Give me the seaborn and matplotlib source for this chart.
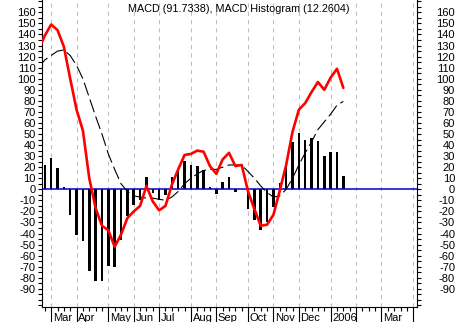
import matplotlib
matplotlib.use("Agg")
import matplotlib.pyplot as plt
import matplotlib.transforms as mtransforms
import numpy as np
import pandas as pd
import seaborn as sns

# Weekly MACD study; week 0 is the last trading week of February 2005
weeks = list(range(-1, 48))
macd = [126, 139, 149, 144, 129, 100, 72, 53, 10, -17,
        -33, -37, -52, -41, -26, -20, -15, 3, -11, -19,
        -15, 4, 18, 31, 32, 35, 34, 21, 14, 27,
        33, 21, 22, -2, -18, -33, -32, -23, -1, 22,
        52, 72, 78, 88, 97, 90, 101, 109, 91.7338]
signal = [110, 117, 121, 125, 126, 121, 112, 100, 83, 66,
          50, 32, 18, 5, -2, -6, -7, -8, -8, -9,
          -10, -7, -2, 5, 10, 14, 17, 18, 18, 20,
          22, 22, 22, 16, 10, 3, -3, -7, -6, 0,
          10, 22, 33, 43, 54, 61, 68, 76, 79.4734]
histogram = [16, 22, 28, 19, 2, -23, -41, -47, -74, -83,
             -83, -69, -70, -46, -24, -14, -10, 11, -3, -10,
             -5, 11, 18, 26, 22, 21, 17, 2, -4, 7,
             11, -2, 0.5, -18, -28, -37, -30, -16, 6, 23,
             43, 51, 45, 46, 44, 30, 34, 34, 12.2604]

# First trading week of each month on the week axis
month_weeks = [1, 5, 10, 14, 18, 23, 27, 32, 36, 40, 45, 49, 53, 58]
month_labels = ["Mar", "Apr", "May", "Jun", "Jul", "Aug", "Sep", "Oct",
                "Nov", "Dec", "2006", "", "Mar", ""]

title = "MACD (91.7338), MACD Histogram (12.2604)"

sns.set_theme(style="white")
plt.rcParams["font.family"] = ["Liberation Sans", "DejaVu Sans"]
plt.rcParams["text.color"] = "black"
plt.rcParams["axes.edgecolor"] = "black"

W, H = 458, 322
fig = plt.figure(figsize=(W / 100, H / 100), dpi=100)
fig.patch.set_facecolor("white")
ax = fig.add_axes([41.5 / W, (H - 306.5) / H, (416.7 - 41.5) / W, 306.5 / H])

df = pd.DataFrame({"week": weeks, "macd": macd, "signal": signal, "hist": histogram})

# month separators
for w in month_weeks:
    ax.axvline(w, color="#BDBDBD", lw=0.75, linestyle=(0, (4, 4)), zorder=0)

sns.barplot(data=df, x="week", y="hist", native_scale=True, color="black",
            saturation=1, width=0.4, errorbar=None, linewidth=0, ax=ax, zorder=2)
ax.axhline(0, color="#0000CC", lw=1.1, zorder=3)
sns.lineplot(data=df, x="week", y="signal", color="black", lw=0.8,
             linestyle=(0, (12, 4)), ax=ax, zorder=4)
sns.lineplot(data=df, x="week", y="macd", color="#FF0000", lw=1.9, ax=ax, zorder=5)

ax.set_xlim(-0.52, 58.55)
ax.set_ylim(-106, 171.2)
ax.set_xlabel("")
ax.set_ylabel("")

for side in ["left", "right", "bottom"]:
    ax.spines[side].set_visible(True)
    ax.spines[side].set_color("black")
    ax.spines[side].set_linewidth(0.8)
ax.spines["top"].set_visible(False)

# x ticks: long marks at month starts, short marks every week
ax.set_xticks(month_weeks)
ax.set_xticks(range(0, 59), minor=True)
ax.tick_params(axis="x", which="major", bottom=True, length=10.8, width=0.8,
               color="black", direction="out", labelbottom=False)
ax.tick_params(axis="x", which="minor", bottom=True, length=2.6, width=0.8,
               color="black", direction="out")

yt = list(range(-100, 171, 10))
ax.set_yticks(yt, [str(v) if -90 <= v <= 160 else "" for v in yt])
ax.set_yticks(list(range(-105, 171, 10)), minor=True)
ax.tick_params(axis="y", which="both", left=True, right=True, length=3,
               width=0.8, color="black", direction="out")
ax.tick_params(axis="y", which="major", labelleft=True, labelright=True,
               labelsize=8, labelcolor="black", pad=1.2)

shift = mtransforms.ScaledTranslation(32.5 / 100, 0, fig.dpi_scale_trans)
for t in ax.yaxis.get_major_ticks():
    t.label2.set_horizontalalignment("right")
    t.label2.set_transform(t.label2.get_transform() + shift)

for w, lab in zip(month_weeks, month_labels):
    if lab:
        ax.annotate(lab, xy=(w, 0), xycoords=("data", "axes fraction"),
                    xytext=(1.2, -8.3), textcoords="offset points",
                    ha="left", va="center", fontsize=8, color="black",
                    annotation_clip=False)

fig.text(128 / W, 1 - 8.5 / H, title, ha="left", va="center", fontsize=7.8,
         color="black")

fig.savefig("out.png", dpi=100, facecolor="white")
